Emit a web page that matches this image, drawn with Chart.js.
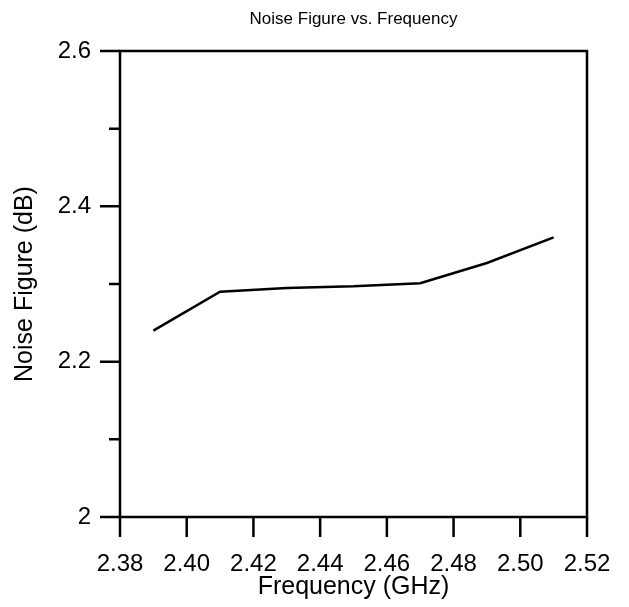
<!DOCTYPE html>
<html>
<head>
<meta charset="utf-8">
<script src="https://cdn.jsdelivr.net/npm/chart.js@4"></script>
<style>
    html, body { margin: 0; padding: 0; background: #fff; }
    #wrap { width: 629px; height: 607px; position: relative; }
</style>
</head>
<body>
<div id="wrap"><canvas id="nfChart"></canvas></div>
<script>
// data
const FREQ_GHZ = [2.39, 2.41, 2.43, 2.45, 2.47, 2.49, 2.51];
const NOISE_FIGURE_DB = [2.24, 2.29, 2.295, 2.297, 2.301, 2.327, 2.36];

// axis ticks
const X_TICKS = [2.38, 2.40, 2.42, 2.44, 2.46, 2.48, 2.50, 2.52];
const Y_TICKS = [2.0, 2.2, 2.4, 2.6];
const Y_MINOR = [2.1, 2.3, 2.5];

const TITLE = 'Noise Figure vs. Frequency';
const FONT = '"Liberation Sans", Arial, Helvetica, sans-serif';

// draws the box, tick marks and the title on top of the chart
const framePlugin = {
    id: 'frame',
    afterDraw(chart) {
        const { ctx, chartArea: a, scales } = chart;
        const xs = scales.x, ys = scales.y;
        ctx.save();
        ctx.strokeStyle = '#000';
        ctx.lineWidth = 2.5;
        ctx.strokeRect(a.left, a.top, a.right - a.left, a.bottom - a.top);

        ctx.beginPath();
        X_TICKS.forEach(v => {
            const px = xs.getPixelForValue(v);
            ctx.moveTo(px, a.bottom);
            ctx.lineTo(px, a.bottom + 20);
        });
        Y_TICKS.forEach(v => {
            const py = ys.getPixelForValue(v);
            ctx.moveTo(a.left - 20, py);
            ctx.lineTo(a.left, py);
        });
        Y_MINOR.forEach(v => {
            const py = ys.getPixelForValue(v);
            ctx.moveTo(a.left - 11, py);
            ctx.lineTo(a.left, py);
        });
        ctx.stroke();

        ctx.fillStyle = '#000';
        ctx.font = '17px ' + FONT;
        ctx.textAlign = 'center';
        ctx.textBaseline = 'middle';
        ctx.fillText(TITLE, (a.left + a.right) / 2, 19);
        ctx.restore();
    }
};

const ctx = document.getElementById('nfChart').getContext('2d');
new Chart(ctx, {
    type: 'line',
    data: {
        datasets: [{
            label: 'Noise Figure',
            data: FREQ_GHZ.map((f, i) => ({ x: f, y: NOISE_FIGURE_DB[i] })),
            borderColor: '#000',
            borderWidth: 2.5,
            pointRadius: 0,
            tension: 0,
            fill: false
        }]
    },
    options: {
        responsive: true,
        maintainAspectRatio: false,
        animation: false,
        layout: {
            padding: { top: 51, right: 42, left: 0, bottom: 0 }
        },
        plugins: {
            legend: { display: false },
            title: { display: false },
            tooltip: { enabled: false }
        },
        scales: {
            x: {
                type: 'linear',
                min: 2.38,
                max: 2.52,
                afterBuildTicks: s => { s.ticks = X_TICKS.map(v => ({ value: v })); },
                afterFit: s => {
                    s.height = 90;
                    s.paddingLeft = 0;
                    s.paddingRight = 0;
                },
                grid: { display: false, drawTicks: false },
                border: { display: false },
                ticks: {
                    padding: 33,
                    color: '#000',
                    font: { family: FONT, size: 24 },
                    maxRotation: 0,
                    callback: v => v.toFixed(2)
                },
                title: {
                    display: true,
                    text: 'Frequency (GHz)',
                    color: '#000',
                    font: { family: FONT, size: 25 },
                    padding: { top: 0, bottom: 5 }
                }
            },
            y: {
                type: 'linear',
                min: 2.0,
                max: 2.6,
                afterBuildTicks: s => { s.ticks = Y_TICKS.map(v => ({ value: v })); },
                afterFit: s => { s.width = 120; },
                grid: { display: false, drawTicks: false },
                border: { display: false },
                ticks: {
                    padding: 29,
                    color: '#000',
                    font: { family: FONT, size: 24 },
                    callback: v => (Math.round(v * 10) / 10).toString()
                },
                title: {
                    display: true,
                    text: 'Noise Figure (dB)',
                    color: '#000',
                    font: { family: FONT, size: 25 },
                    padding: { top: 10, bottom: 0 }
                }
            }
        }
    },
    plugins: [framePlugin]
});
</script>
</body>
</html>
